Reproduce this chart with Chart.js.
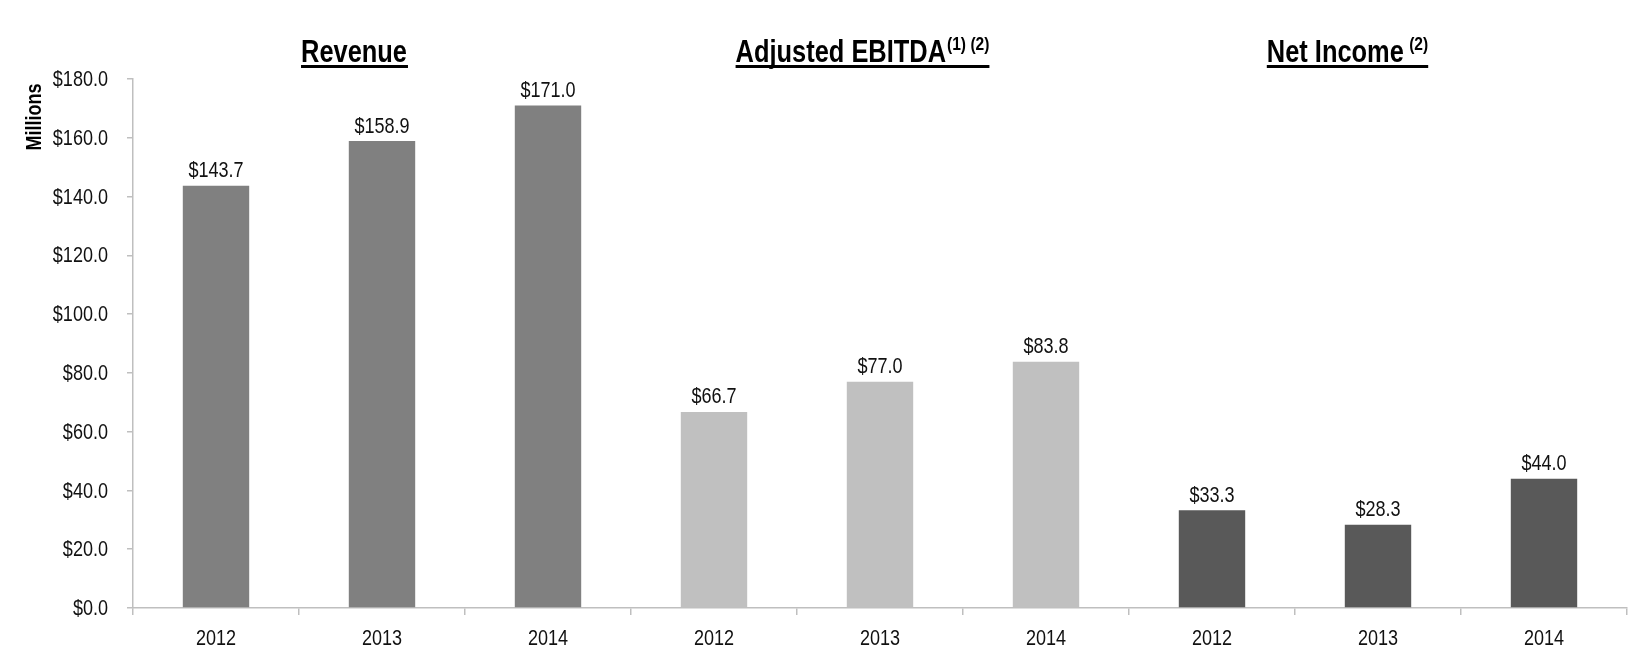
<!DOCTYPE html>
<html>
<head>
<meta charset="utf-8">
<script src="https://cdn.jsdelivr.net/npm/chart.js@4/dist/chart.umd.min.js"></script>
<style>
  html, body { margin: 0; padding: 0; background: #fff; }
  #wrap { width: 1651px; height: 655px; position: relative; }
</style>
</head>
<body>
<div id="wrap"><canvas id="c"></canvas></div>
<script>
// ---- data ----
const years = ['2012', '2013', '2014'];
const groups = ['Revenue', 'Adjusted EBITDA', 'Net Income'];
const groupNotes = ['', '(1) (2)', ' (2)'];
const revenue = [143.7, 158.9, 171.0];
const adjustedEbitda = [66.7, 77.0, 83.8];
const netIncome = [33.3, 28.3, 44.0];
const yTicks = [0, 20, 40, 60, 80, 100, 120, 140, 160, 180];
const yAxisTitle = 'Millions';

// ---- styles ----
const groupColors = ['#808080', '#c0c0c0', '#595959'];
const titleOffsets = [-28, -18, -31];
const FONT = "'Liberation Sans', Arial, sans-serif";
const NARROW = 0.82; // emulate a condensed face

const labels = [];
const values = [];
const colors = [];
[revenue, adjustedEbitda, netIncome].forEach((arr, g) => {
  arr.forEach((v, i) => {
    labels.push(years[i]);
    values.push(v);
    colors.push(groupColors[g]);
  });
});

const fmt = v => '$' + v.toFixed(1);

function narrowText(ctx, text, x, y, font, align, baseline) {
  ctx.save();
  ctx.font = font;
  ctx.textAlign = align || 'center';
  ctx.textBaseline = baseline || 'alphabetic';
  ctx.translate(x, y);
  ctx.scale(NARROW, 1);
  ctx.fillText(text, 0, 0);
  ctx.restore();
}
function narrowWidth(ctx, text, font) {
  ctx.save();
  ctx.font = font;
  const w = ctx.measureText(text).width * NARROW;
  ctx.restore();
  return w;
}

const overlay = {
  id: 'overlay',
  afterDraw(chart) {
    const ctx = chart.ctx;
    const meta = chart.getDatasetMeta(0);
    const xs = chart.scales.x;
    const ys = chart.scales.y;
    ctx.save();
    ctx.fillStyle = '#111';
    // y tick labels
    ys.ticks.forEach(t => {
      narrowText(ctx, fmt(t.value), ys.right - 25, ys.getPixelForValue(t.value) + 1,
        '22px ' + FONT, 'right', 'middle');
    });
    // x tick labels
    labels.forEach((lab, i) => {
      narrowText(ctx, lab, xs.getPixelForValue(i), 644.5, '22px ' + FONT, 'center', 'alphabetic');
    });
    // value labels
    meta.data.forEach((bar, i) => {
      narrowText(ctx, fmt(values[i]), bar.x, bar.y - 8.5, '22px ' + FONT, 'center', 'alphabetic');
    });
    // group titles
    ctx.fillStyle = '#000';
    const fMain = 'bold 31px ' + FONT;
    const fNote = 'bold 19px ' + FONT;
    groups.forEach((name, g) => {
      const cx = xs.getPixelForValue(g * years.length + 1) + titleOffsets[g];
      const w1 = narrowWidth(ctx, name, fMain);
      const w2 = groupNotes[g] ? narrowWidth(ctx, groupNotes[g], fNote) : 0;
      const total = w1 + w2;
      const left = cx - total / 2;
      const base = 61.5;
      narrowText(ctx, name, left, base, fMain, 'left', 'alphabetic');
      if (w2) narrowText(ctx, groupNotes[g], left + w1 + 1, base - 11.5, fNote, 'left', 'alphabetic');
      ctx.fillRect(left, base + 3.5, total + 1, 3);
    });
    // y axis title
    ctx.save();
    ctx.translate(35, 117);
    ctx.rotate(-Math.PI / 2);
    ctx.scale(NARROW, 1);
    ctx.font = 'bold 22px ' + FONT;
    ctx.textAlign = 'center';
    ctx.textBaseline = 'middle';
    ctx.fillText(yAxisTitle, 0, 0);
    ctx.restore();
    ctx.restore();
  }
};

new Chart(document.getElementById('c'), {
  type: 'bar',
  data: {
    labels: labels,
    datasets: [{
      data: values,
      backgroundColor: colors,
      borderWidth: 0,
      categoryPercentage: 1.0,
      barPercentage: 0.4
    }]
  },
  options: {
    responsive: true,
    maintainAspectRatio: false,
    animation: false,
    devicePixelRatio: 1,
    layout: { padding: { top: 79, right: 24, left: 0, bottom: 0 } },
    plugins: {
      legend: { display: false },
      tooltip: { enabled: false },
      title: { display: false }
    },
    scales: {
      x: {
        offset: true,
        grid: {
          offset: true,
          drawOnChartArea: false,
          drawTicks: true,
          tickLength: 7,
          color: '#bfbfbf',
          lineWidth: 1.5
        },
        border: { display: true, color: '#bfbfbf', width: 1.5 },
        ticks: { display: false, autoSkip: false },
        afterFit(scale) { scale.height = 47; }
      },
      y: {
        min: 0,
        max: 180,
        afterBuildTicks(scale) { scale.ticks = yTicks.map(v => ({ value: v })); },
        grid: {
          drawOnChartArea: false,
          drawTicks: true,
          tickLength: 6,
          color: '#bfbfbf',
          lineWidth: 1.5
        },
        border: { display: true, color: '#bfbfbf', width: 1.5 },
        ticks: { display: false },
        afterFit(scale) { scale.width = 133; }
      }
    }
  },
  plugins: [overlay]
});
</script>
</body>
</html>
